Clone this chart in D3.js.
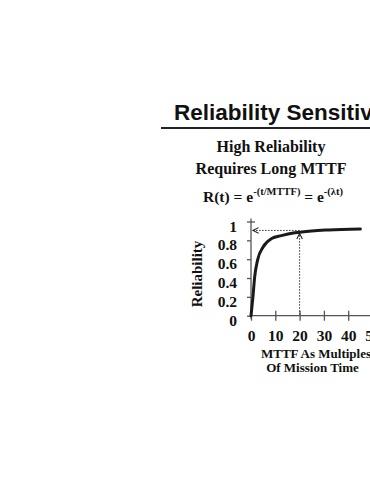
<!DOCTYPE html>
<html>
<head>
<meta charset="utf-8">
<script src="https://cdn.jsdelivr.net/npm/d3@7/dist/d3.min.js"></script>
<style>
  html, body { margin: 0; padding: 0; background: #fff; overflow: hidden; }
  svg { display: block; }
  .serif { font-family: "Liberation Serif", "Times New Roman", serif; font-weight: bold; fill: #111; }
</style>
</head>
<body>
<svg id="chart" width="370" height="480"></svg>
<script>
// MTTF as multiples of mission time vs reliability
const mttf = [0, 0.4, 0.8, 1.5, 2.7, 5, 8.5, 12.5, 18, 25, 32, 45];
const reliability = [0, 0.1, 0.2, 0.41, 0.59, 0.73, 0.82, 0.85, 0.88, 0.9, 0.91, 0.92];
const xTicks = [0, 10, 20, 30, 40, 50];
const yTicks = [0, 0.2, 0.4, 0.6, 0.8, 1];
const markMttf = 20;
const markRel = 0.905;

const svg = d3.select('#chart');

// title + rule
svg.append('text')
  .attr('x', 174).attr('y', 120)
  .attr('font-family', '"Liberation Sans", Arial, sans-serif')
  .attr('font-weight', 'bold').attr('font-size', 22.5)
  .attr('fill', '#111')
  .text('Reliability Sensitivity');
svg.append('line')
  .attr('x1', 161).attr('x2', 370).attr('y1', 128).attr('y2', 128)
  .attr('stroke', '#222').attr('stroke-width', 2);

svg.append('text').attr('class', 'serif')
  .attr('x', 271).attr('y', 152).attr('text-anchor', 'middle').attr('font-size', 16)
  .text('High Reliability');
svg.append('text').attr('class', 'serif')
  .attr('x', 271).attr('y', 174).attr('text-anchor', 'middle').attr('font-size', 16)
  .text('Requires Long MTTF');

// formula
const f = svg.append('text').attr('class', 'serif')
  .attr('x', 203).attr('y', 202).attr('font-size', 15.5);
f.append('tspan').text('R(t) = e');
f.append('tspan').attr('dy', -7).attr('font-size', 10.5).text('-(t/MTTF)');
f.append('tspan').attr('dy', 7).text(' = e');
f.append('tspan').attr('dy', -7).attr('font-size', 10.5).text('-(\u03BBt)');

// scales
const x = d3.scaleLinear().domain([0, 50]).range([251, 372.5]);
const y = d3.scaleLinear().domain([0, 1]).range([315.7, 221.5]);

// axes
const yAxis = svg.append('g')
  .attr('transform', `translate(${x(0)},0)`)
  .call(d3.axisLeft(y).tickValues(yTicks).tickSize(4).tickFormat(d => d3.format('~g')(d)).tickPadding(10));
yAxis.select('.domain').attr('d', `M0,${y(0) + 3}V${y(1) - 3}`);
yAxis.selectAll('.tick line').attr('x2', d => d === 1 ? 4 : -4).attr('x1', d => d === 1 ? -4 : 0);
yAxis.selectAll('.tick text').attr('dy', '0.62em');

const xAxis = svg.append('g')
  .attr('transform', `translate(0,${y(0)})`)
  .call(d3.axisBottom(x).tickValues(xTicks).tickSize(5).tickPadding(9));
xAxis.select('.domain').attr('d', `M${x(0)},0H372`);
xAxis.selectAll('.tick line').attr('y1', -5).attr('y2', 5);

svg.selectAll('.domain, .tick line').attr('stroke', '#555').attr('stroke-width', 1.3);
svg.selectAll('.tick text')
  .attr('font-family', '"Liberation Serif", "Times New Roman", serif')
  .attr('font-weight', 'bold').attr('font-size', 15.5).attr('fill', '#111');

// axis titles
svg.append('text').attr('class', 'serif')
  .attr('transform', 'translate(202,274) rotate(-90)')
  .attr('text-anchor', 'middle').attr('font-size', 15)
  .text('Reliability');
svg.append('text').attr('class', 'serif')
  .attr('x', 316).attr('y', 358).attr('text-anchor', 'middle').attr('font-size', 13)
  .text('MTTF As Multiples');
svg.append('text').attr('class', 'serif')
  .attr('x', 312.5).attr('y', 372).attr('text-anchor', 'middle').attr('font-size', 13)
  .text('Of Mission Time');

// arrowheads
const defs = svg.append('defs');
defs.append('marker').attr('id', 'arr')
  .attr('viewBox', '0 0 10 10').attr('refX', 9).attr('refY', 5)
  .attr('markerWidth', 7).attr('markerHeight', 7).attr('markerUnits', 'userSpaceOnUse')
  .attr('orient', 'auto')
  .append('path').attr('d', 'M1,1L9,5L1,9').attr('fill', 'none').attr('stroke', '#222').attr('stroke-width', 1.5);

// dotted guides
svg.append('line')
  .attr('x1', x(markMttf)).attr('y1', y(0) - 1)
  .attr('x2', x(markMttf)).attr('y2', y(markRel) + 3)
  .attr('stroke', '#333').attr('stroke-width', 1).attr('stroke-dasharray', '1.5,1.5')
  .attr('marker-end', 'url(#arr)');
svg.append('line')
  .attr('x1', x(markMttf)).attr('y1', y(markRel))
  .attr('x2', x(0) + 2).attr('y2', y(markRel))
  .attr('stroke', '#333').attr('stroke-width', 1).attr('stroke-dasharray', '1.5,1.5')
  .attr('marker-end', 'url(#arr)');

// curve
const pts = mttf.map((m, i) => ({ m, r: reliability[i] }));
svg.append('path')
  .datum(pts)
  .attr('fill', 'none').attr('stroke', '#1a1a1a').attr('stroke-width', 3)
  .attr('stroke-linecap', 'round')
  .attr('d', d3.line().x(d => x(d.m)).y(d => y(d.r)).curve(d3.curveMonotoneX));
</script>
</body>
</html>
